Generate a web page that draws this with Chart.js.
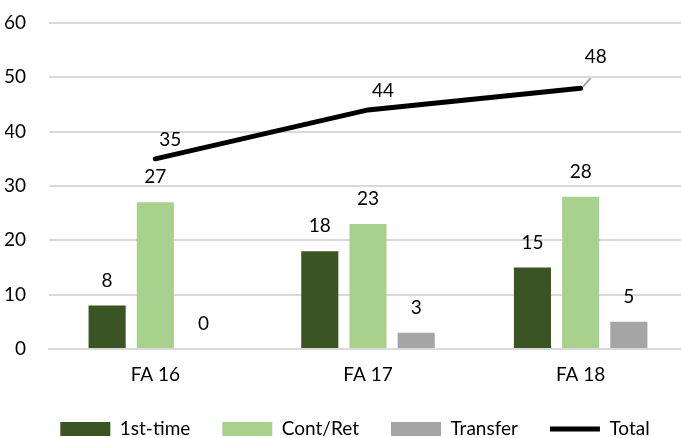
<!DOCTYPE html>
<html>
<head>
<meta charset="utf-8">
<script src="https://cdn.jsdelivr.net/npm/chart.js@4/dist/chart.umd.min.js"></script>
<style>
  html, body { margin: 0; padding: 0; background: #fff; }
  #wrap { width: 681px; height: 438px; }
</style>
</head>
<body>
<div id="wrap"><canvas id="chart"></canvas></div>
<script>
const terms = ['FA 16', 'FA 17', 'FA 18'];
const firstTime = [8, 18, 15];
const contRet = [27, 23, 28];
const transfer = [0, 3, 5];
const totals = [35, 44, 48];

const FONT = 'Lato, "Open Sans", sans-serif';

// value labels: above each bar, beside each point of the total line
const valueLabels = {
    id: 'valueLabels',
    afterDatasetsDraw(chart) {
        const ctx = chart.ctx;
        ctx.save();
        ctx.font = '19px ' + FONT;
        ctx.fillStyle = '#000';
        ctx.textAlign = 'center';
        ctx.textBaseline = 'middle';
        chart.data.datasets.forEach((ds, di) => {
            const meta = chart.getDatasetMeta(di);
            meta.data.forEach((el, i) => {
                const v = ds.data[i];
                if (ds.type === 'line') {
                    let dx = 15, dy = -19;
                    if (i === 2) {
                        // last label sits higher, with a small leader line
                        dy = -31;
                        ctx.strokeStyle = '#a6a6a6';
                        ctx.lineWidth = 2;
                        ctx.beginPath();
                        ctx.moveTo(el.x + 2, el.y - 1);
                        ctx.lineTo(el.x + 10, el.y - 10);
                        ctx.stroke();
                    }
                    ctx.fillText(v, el.x + dx, el.y + dy);
                } else {
                    ctx.fillText(v, el.x, el.y - 25);
                }
            });
        });
        ctx.restore();
    }
};

// the plot runs a few px past the right edge and the legend sits right of centre
const layoutTweak = {
    id: 'layoutTweak',
    afterLayout(chart) {
        const x = chart.scales.x;
        x.right += 6;
        x.width += 6;
        x.configure();
        chart.chartArea.right += 6;
        chart.chartArea.width += 6;
        chart.legend.left += 12;
        chart.legend.right += 12;
    }
};

const barOpts = {
    categoryPercentage: 0.68,
    barPercentage: 0.77,
    borderWidth: 0,
    pointStyle: 'rect'
};

new Chart(document.getElementById('chart'), {
    type: 'bar',
    data: {
        labels: terms,
        datasets: [
            Object.assign({ label: '1st-time', data: firstTime, backgroundColor: '#3a5423' }, barOpts),
            Object.assign({ label: 'Cont/Ret', data: contRet, backgroundColor: '#a9d18e' }, barOpts),
            Object.assign({ label: 'Transfer', data: transfer, backgroundColor: '#a5a5a5' }, barOpts),
            {
                type: 'line',
                label: 'Total',
                data: totals,
                borderColor: '#000',
                backgroundColor: '#000',
                borderWidth: 5,
                borderCapStyle: 'round',
                pointRadius: 0,
                pointStyle: 'line',
                fill: false
            }
        ]
    },
    options: {
        responsive: true,
        maintainAspectRatio: false,
        animation: false,
        layout: { padding: { top: 23, left: 5, right: 0, bottom: -10.5 } },
        plugins: {
            tooltip: { enabled: false },
            legend: {
                position: 'bottom',
                labels: {
                    usePointStyle: true,
                    pointStyleWidth: 50,
                    boxHeight: 14,
                    padding: 32,
                    color: '#000',
                    font: { family: FONT, size: 19 }
                }
            }
        },
        scales: {
            x: {
                grid: { display: false, drawTicks: false },
                border: { color: '#d9d9d9', width: 2 },
                ticks: { color: '#000', padding: 14, font: { family: FONT, size: 19 } },
                afterFit(scale) {
                    scale.height = 38.5;
                    scale.paddingLeft = 0;
                    scale.paddingRight = 0;
                }
            },
            y: {
                min: 0,
                max: 60,
                ticks: { stepSize: 10, color: '#000', padding: 23, font: { family: FONT, size: 19 } },
                grid: { color: '#d9d9d9', lineWidth: 2, drawTicks: false },
                border: { display: false },
                afterFit(scale) {
                    scale.width = 44;
                    scale.paddingTop = 0;
                    scale.paddingBottom = 0;
                }
            }
        }
    },
    plugins: [valueLabels, layoutTweak]
});
</script>
</body>
</html>
